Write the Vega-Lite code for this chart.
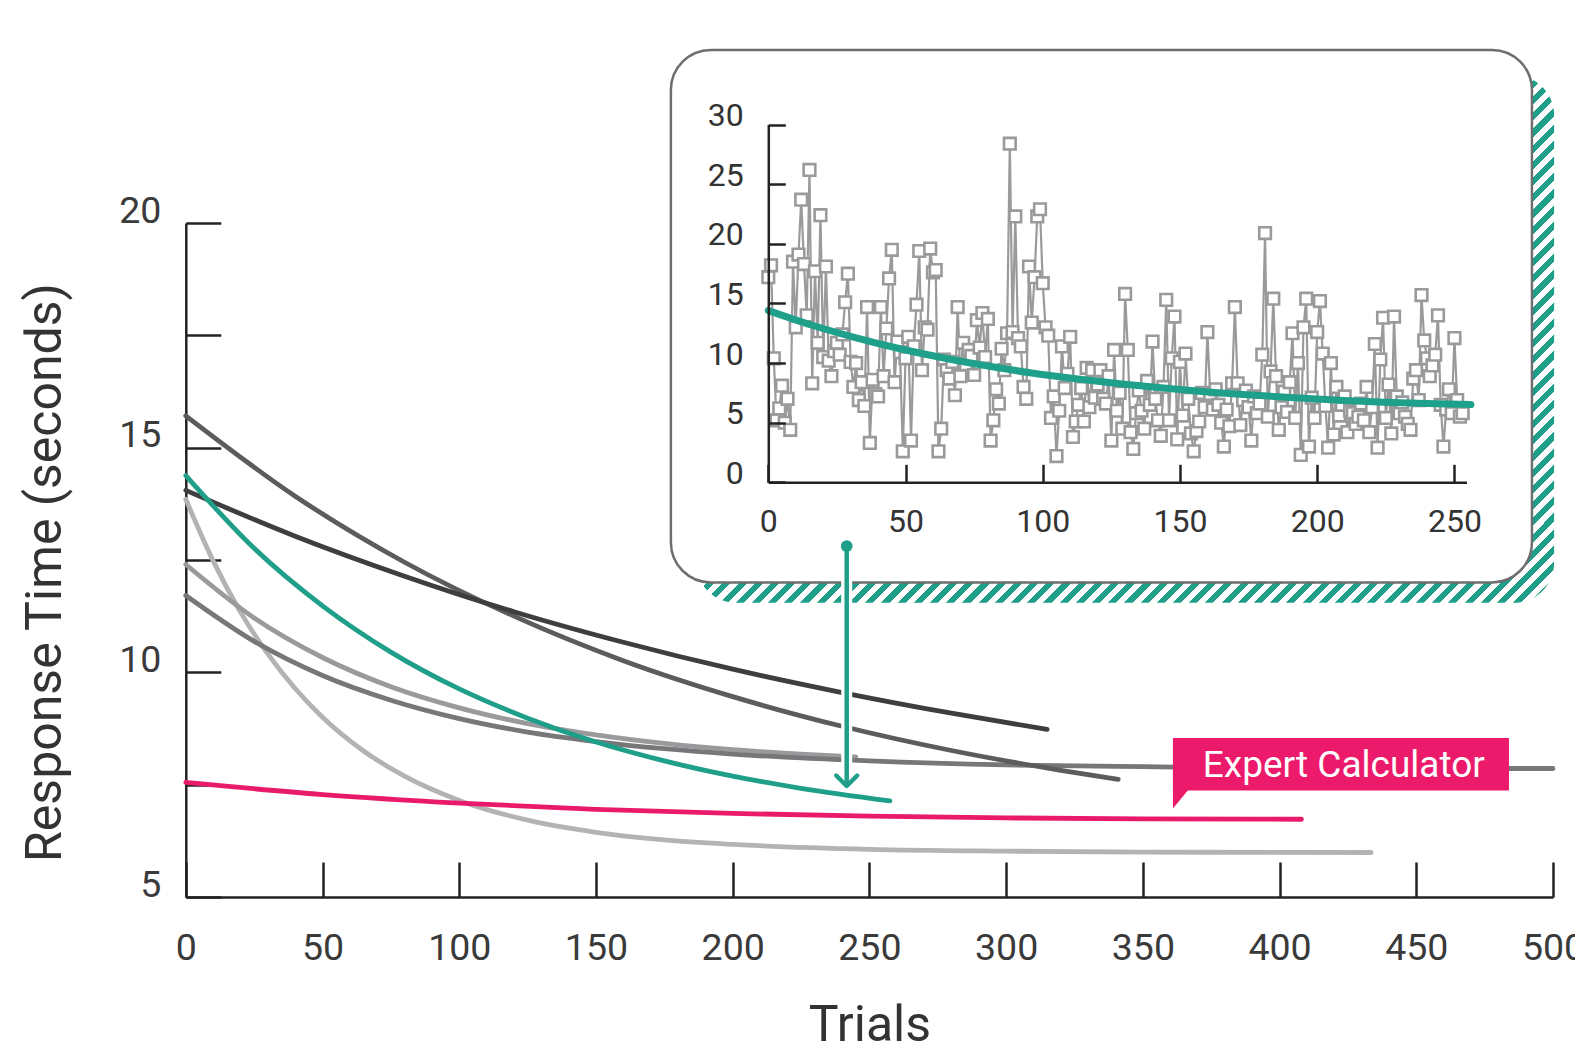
{
"$schema": "https://vega.github.io/schema/vega-lite/v6.json",
"width": 1575, "height": 1051, "padding": 0, "autosize": {"type": "none"},
"background": "#ffffff",
"config": {"view": {"stroke": null}, "font": "Roboto", "axis": {"grid": false}},
"datasets": {
"lines": [
{"s":"F","t":0,"v":13.85},{"s":"F","t":10,"v":12.48},{"s":"F","t":20,"v":11.34},{"s":"F","t":30,"v":10.41},{"s":"F","t":40,"v":9.64},{"s":"F","t":50,"v":9.0},{"s":"F","t":65,"v":8.25},{"s":"F","t":80,"v":7.69},{"s":"F","t":100,"v":7.15},{"s":"F","t":125,"v":6.71},{"s":"F","t":150,"v":6.44},{"s":"F","t":175,"v":6.27},{"s":"F","t":200,"v":6.17},{"s":"F","t":250,"v":6.06},{"s":"F","t":300,"v":6.02},{"s":"F","t":350,"v":6.0},{"s":"F","t":433.5,"v":5.99},
{"s":"D","t":0,"v":12.4},{"s":"D","t":25,"v":11.21},{"s":"D","t":50,"v":10.33},{"s":"D","t":75,"v":9.68},{"s":"D","t":100,"v":9.21},{"s":"D","t":125,"v":8.86},{"s":"D","t":150,"v":8.61},{"s":"D","t":175,"v":8.42},{"s":"D","t":200,"v":8.28},{"s":"D","t":225,"v":8.18},{"s":"D","t":245,"v":8.12},
{"s":"E","t":0,"v":11.71},{"s":"E","t":25,"v":10.69},{"s":"E","t":50,"v":9.93},{"s":"E","t":75,"v":9.38},{"s":"E","t":100,"v":8.97},{"s":"E","t":125,"v":8.67},{"s":"E","t":150,"v":8.46},{"s":"E","t":175,"v":8.3},{"s":"E","t":200,"v":8.18},{"s":"E","t":250,"v":8.03},{"s":"E","t":300,"v":7.94},{"s":"E","t":350,"v":7.9},{"s":"E","t":400,"v":7.87},{"s":"E","t":450,"v":7.86},{"s":"E","t":500,"v":7.86},
{"s":"B","t":0,"v":15.71},{"s":"B","t":40,"v":13.92},{"s":"B","t":80,"v":12.45},{"s":"B","t":120,"v":11.25},{"s":"B","t":160,"v":10.26},{"s":"B","t":200,"v":9.46},{"s":"B","t":240,"v":8.8},{"s":"B","t":280,"v":8.26},{"s":"B","t":320,"v":7.82},{"s":"B","t":341,"v":7.62},
{"s":"A","t":0,"v":14.05},{"s":"A","t":40,"v":13.03},{"s":"A","t":80,"v":12.14},{"s":"A","t":120,"v":11.35},{"s":"A","t":160,"v":10.67},{"s":"A","t":200,"v":10.07},{"s":"A","t":240,"v":9.55},{"s":"A","t":280,"v":9.09},{"s":"A","t":315,"v":8.73},
{"s":"C","t":0,"v":14.38},{"s":"C","t":25,"v":12.76},{"s":"C","t":50,"v":11.48},{"s":"C","t":75,"v":10.45},{"s":"C","t":100,"v":9.63},{"s":"C","t":125,"v":8.98},{"s":"C","t":150,"v":8.45},{"s":"C","t":175,"v":8.03},{"s":"C","t":200,"v":7.69},{"s":"C","t":225,"v":7.42},{"s":"C","t":257.5,"v":7.14},
{"s":"G","t":0,"v":7.55},{"s":"G","t":50,"v":7.28},{"s":"G","t":100,"v":7.09},{"s":"G","t":150,"v":6.95},{"s":"G","t":200,"v":6.86},{"s":"G","t":250,"v":6.8},{"s":"G","t":300,"v":6.76},{"s":"G","t":350,"v":6.74},{"s":"G","t":408,"v":6.73}
],
"shadow": [{"t":186.6,"t2":500.4,"v":23.29,"v2":11.55}],
"box": [{"t":177.4,"t2":492.3,"v":23.85,"v2":12.0}],
"expert": [{"t":361.0,"t2":483.9,"v":8.54,"v2":7.37}],
"tail": [{"t":361.0,"v":6.97,"v2":7.45},{"t":367.5,"v":7.45,"v2":7.45}],
"label": [{"t":423.5,"v":7.664,"txt":"Expert Calculator"}],
"arrow": [{"t":241.7,"v":12.81,"v2":7.47}],
"arrowTip": [{"t":241.7,"v":7.47}],
"arrowTop": [{"t":241.7,"v":12.81}],
"fit": [{"t":0,"v":14.4},{"t":16,"v":13.17},{"t":32,"v":12.11},{"t":48,"v":11.2},{"t":64,"v":10.42},{"t":80,"v":9.75},{"t":96,"v":9.17},{"t":112,"v":8.68},{"t":128,"v":8.26},{"t":144,"v":7.9},{"t":160,"v":7.58},{"t":176,"v":7.32},{"t":192,"v":7.09},{"t":208,"v":6.89},{"t":224,"v":6.72},{"t":240,"v":6.6},{"t":256,"v":6.52}],
"inset": [
{"t":0,"v":17.2},{"t":1,"v":18.2},{"t":2,"v":10.4},{"t":3,"v":5.2},{"t":4,"v":6.2},{"t":5,"v":8.1},{"t":6,"v":5.0},{"t":7,"v":7.0},{"t":8,"v":4.4},{"t":9,"v":18.5},
{"t":10,"v":13.0},{"t":11,"v":19.1},{"t":12,"v":23.7},{"t":13,"v":18.3},{"t":14,"v":14.0},{"t":15,"v":26.2},{"t":16,"v":8.3},{"t":17,"v":17.7},{"t":18,"v":11.7},{"t":19,"v":22.4},
{"t":20,"v":10.5},{"t":21,"v":18.1},{"t":22,"v":10.2},{"t":23,"v":8.9},{"t":24,"v":11.0},{"t":25,"v":11.7},{"t":26,"v":10.7},{"t":27,"v":12.4},{"t":28,"v":15.1},{"t":29,"v":17.5},
{"t":30,"v":10.1},{"t":31,"v":8.0},{"t":32,"v":10.0},{"t":33,"v":6.9},{"t":34,"v":8.4},{"t":35,"v":6.4},{"t":36,"v":14.7},{"t":37,"v":3.3},{"t":38,"v":8.6},{"t":39,"v":7.4},
{"t":40,"v":7.2},{"t":41,"v":14.7},{"t":42,"v":8.9},{"t":43,"v":12.9},{"t":44,"v":17.1},{"t":45,"v":19.5},{"t":46,"v":8.4},{"t":47,"v":11.8},{"t":48,"v":10.9},{"t":49,"v":2.6},
{"t":50,"v":10.4},{"t":51,"v":12.2},{"t":52,"v":3.5},{"t":53,"v":11.4},{"t":54,"v":14.9},{"t":55,"v":19.4},{"t":56,"v":9.4},{"t":57,"v":13.0},{"t":58,"v":12.8},{"t":59,"v":19.6},
{"t":60,"v":17.6},{"t":61,"v":17.8},{"t":62,"v":2.6},{"t":63,"v":4.5},{"t":64,"v":10.3},{"t":65,"v":9.4},{"t":66,"v":8.7},{"t":67,"v":10.1},{"t":68,"v":7.3},{"t":69,"v":14.7},
{"t":70,"v":8.9},{"t":71,"v":11.7},{"t":72,"v":9.9},{"t":73,"v":11.1},{"t":74,"v":10.6},{"t":75,"v":9.0},{"t":76,"v":13.6},{"t":77,"v":11.3},{"t":78,"v":14.2},{"t":79,"v":10.5},
{"t":80,"v":13.7},{"t":81,"v":3.5},{"t":82,"v":5.2},{"t":83,"v":7.8},{"t":84,"v":6.6},{"t":85,"v":11.2},{"t":86,"v":9.4},{"t":87,"v":12.5},{"t":88,"v":28.4},{"t":89,"v":12.6},
{"t":90,"v":22.3},{"t":91,"v":12.1},{"t":92,"v":11.4},{"t":93,"v":8.0},{"t":94,"v":7.0},{"t":95,"v":18.1},{"t":96,"v":13.4},{"t":97,"v":17.2},{"t":98,"v":22.3},{"t":99,"v":22.9},
{"t":100,"v":16.7},{"t":101,"v":13.0},{"t":102,"v":12.3},{"t":103,"v":5.4},{"t":104,"v":7.2},{"t":105,"v":2.2},{"t":106,"v":6.0},{"t":107,"v":11.4},{"t":108,"v":7.9},{"t":109,"v":9.1},
{"t":110,"v":12.2},{"t":111,"v":3.8},{"t":112,"v":5.1},{"t":113,"v":6.5},{"t":114,"v":7.9},{"t":115,"v":5.1},{"t":116,"v":9.6},{"t":117,"v":6.3},{"t":118,"v":9.4},{"t":119,"v":7.1},
{"t":120,"v":8.2},{"t":121,"v":9.4},{"t":122,"v":7.0},{"t":123,"v":6.6},{"t":124,"v":8.9},{"t":125,"v":3.5},{"t":126,"v":11.1},{"t":127,"v":6.0},{"t":128,"v":7.5},{"t":129,"v":4.5},
{"t":130,"v":15.8},{"t":131,"v":11.1},{"t":132,"v":4.2},{"t":133,"v":2.8},{"t":134,"v":5.8},{"t":135,"v":7.7},{"t":136,"v":6.0},{"t":137,"v":4.5},{"t":138,"v":8.5},{"t":139,"v":6.5},
{"t":140,"v":11.8},{"t":141,"v":7.0},{"t":142,"v":5.2},{"t":143,"v":3.9},{"t":144,"v":8.0},{"t":145,"v":15.3},{"t":146,"v":5.2},{"t":147,"v":10.4},{"t":148,"v":13.9},{"t":149,"v":3.6},
{"t":150,"v":10.1},{"t":151,"v":5.6},{"t":152,"v":10.8},{"t":153,"v":7.0},{"t":154,"v":4.1},{"t":155,"v":2.6},{"t":156,"v":4.3},{"t":157,"v":5.1},{"t":158,"v":7.5},{"t":159,"v":6.3},
{"t":160,"v":12.6},{"t":161,"v":7.4},{"t":162,"v":6.1},{"t":163,"v":7.8},{"t":164,"v":6.5},{"t":165,"v":5.0},{"t":166,"v":3.0},{"t":167,"v":6.1},{"t":168,"v":4.7},{"t":169,"v":8.3},
{"t":170,"v":14.7},{"t":171,"v":8.3},{"t":172,"v":4.8},{"t":173,"v":6.9},{"t":174,"v":7.7},{"t":175,"v":6.3},{"t":176,"v":3.5},{"t":177,"v":7.2},{"t":178,"v":5.8},{"t":179,"v":6.6},
{"t":180,"v":10.7},{"t":181,"v":20.9},{"t":182,"v":5.5},{"t":183,"v":9.3},{"t":184,"v":15.4},{"t":185,"v":8.9},{"t":186,"v":4.4},{"t":187,"v":6.3},{"t":188,"v":7.6},{"t":189,"v":5.9},
{"t":190,"v":8.4},{"t":191,"v":12.5},{"t":192,"v":5.4},{"t":193,"v":10.0},{"t":194,"v":2.3},{"t":195,"v":13.0},{"t":196,"v":15.4},{"t":197,"v":3.0},{"t":198,"v":7.1},{"t":199,"v":5.4},
{"t":200,"v":12.6},{"t":201,"v":15.2},{"t":202,"v":10.8},{"t":203,"v":6.4},{"t":204,"v":2.9},{"t":205,"v":10.0},{"t":206,"v":4.0},{"t":207,"v":8.0},{"t":208,"v":5.6},{"t":209,"v":6.5},
{"t":210,"v":7.2},{"t":211,"v":4.2},{"t":212,"v":6.0},{"t":213,"v":5.8},{"t":214,"v":4.9},{"t":215,"v":5.5},{"t":216,"v":6.6},{"t":217,"v":5.2},{"t":218,"v":8.0},{"t":219,"v":4.2},
{"t":220,"v":6.3},{"t":221,"v":11.6},{"t":222,"v":2.9},{"t":223,"v":10.3},{"t":224,"v":13.8},{"t":225,"v":5.4},{"t":226,"v":8.2},{"t":227,"v":4.1},{"t":228,"v":13.9},{"t":229,"v":7.2},
{"t":230,"v":5.8},{"t":231,"v":6.7},{"t":232,"v":5.5},{"t":233,"v":4.9},{"t":234,"v":4.4},{"t":235,"v":8.7},{"t":236,"v":9.4},{"t":237,"v":6.9},{"t":238,"v":15.7},{"t":239,"v":11.9},
{"t":240,"v":10.4},{"t":241,"v":8.9},{"t":242,"v":9.8},{"t":243,"v":10.7},{"t":244,"v":14.0},{"t":245,"v":6.5},{"t":246,"v":3.0},{"t":247,"v":6.1},{"t":248,"v":7.8},{"t":249,"v":5.8},
{"t":250,"v":12.1},{"t":251,"v":6.9},{"t":252,"v":5.5},{"t":253,"v":5.8}
]
},
"layer": [
{
"encoding": {
"x": {"field": "t", "type": "quantitative",
 "scale": {"domain": [0, 500], "range": [185.8, 1553], "nice": false, "zero": false},
 "axis": {"title": "Trials", "orient": "bottom", "offset": -154, "values": [0,50,100,150,200,250,300,350,400,450,500],
  "tickSize": -35, "tickWidth": 2.5, "tickColor": "#222222", "domainColor": "#222222", "domainWidth": 2.5,
  "labelFont": "Roboto", "labelFontSize": 37.5, "labelColor": "#3a3a3a", "labelPadding": 67, "labelFlush": false, "labelOverlap": false,
  "titleFont": "Roboto", "titleFontSize": 50, "titleFontWeight": "normal", "titleColor": "#333333", "titleBaseline": "alphabetic", "titleY": 143}},
"y": {"field": "v", "type": "quantitative",
 "scale": {"domain": [5, 20], "range": [897, 223], "nice": false, "zero": false},
 "axis": {"title": "Response Time (seconds)", "orient": "left", "offset": -185.8, "values": [5,7.5,10,12.5,15,17.5,20],
  "labelExpr": "datum.value % 5 === 0 ? datum.label : ''",
  "tickSize": -35, "tickWidth": 2.5, "tickColor": "#222222", "domainColor": "#222222", "domainWidth": 2.5,
  "labelFont": "Roboto", "labelFontSize": 37.5, "labelColor": "#3a3a3a", "labelPadding": 60, "labelOffset": -12, "labelOverlap": false,
  "titleFont": "Roboto", "titleFontSize": 50, "titleFontWeight": "normal", "titleColor": "#333333",
  "titleAngle": -90, "titleBaseline": "alphabetic", "titleAlign": "center", "titleX": -125, "titleY": 572}}
},
"layer": [
{"data": {"name": "shadow"},
 "mark": {"type": "rect", "cornerRadius": 40, "fill": {"gradient": "linear", "x1": 0, "y1": 0, "x2": 1.37, "y2": 0.842, "stops": [
{"offset":0.30,"color":"#1f9e89"},{"offset":0.305,"color":"#1f9e89"},{"offset":0.305,"color":"#ffffff"},{"offset":0.31,"color":"#ffffff"},
{"offset":0.31,"color":"#1f9e89"},{"offset":0.315,"color":"#1f9e89"},{"offset":0.315,"color":"#ffffff"},{"offset":0.32,"color":"#ffffff"},
{"offset":0.32,"color":"#1f9e89"},{"offset":0.325,"color":"#1f9e89"},{"offset":0.325,"color":"#ffffff"},{"offset":0.33,"color":"#ffffff"},
{"offset":0.33,"color":"#1f9e89"},{"offset":0.335,"color":"#1f9e89"},{"offset":0.335,"color":"#ffffff"},{"offset":0.34,"color":"#ffffff"},
{"offset":0.34,"color":"#1f9e89"},{"offset":0.345,"color":"#1f9e89"},{"offset":0.345,"color":"#ffffff"},{"offset":0.35,"color":"#ffffff"},
{"offset":0.35,"color":"#1f9e89"},{"offset":0.355,"color":"#1f9e89"},{"offset":0.355,"color":"#ffffff"},{"offset":0.36,"color":"#ffffff"},
{"offset":0.36,"color":"#1f9e89"},{"offset":0.365,"color":"#1f9e89"},{"offset":0.365,"color":"#ffffff"},{"offset":0.37,"color":"#ffffff"},
{"offset":0.37,"color":"#1f9e89"},{"offset":0.375,"color":"#1f9e89"},{"offset":0.375,"color":"#ffffff"},{"offset":0.38,"color":"#ffffff"},
{"offset":0.38,"color":"#1f9e89"},{"offset":0.385,"color":"#1f9e89"},{"offset":0.385,"color":"#ffffff"},{"offset":0.39,"color":"#ffffff"},
{"offset":0.39,"color":"#1f9e89"},{"offset":0.395,"color":"#1f9e89"},{"offset":0.395,"color":"#ffffff"},{"offset":0.40,"color":"#ffffff"},
{"offset":0.40,"color":"#1f9e89"},{"offset":0.405,"color":"#1f9e89"},{"offset":0.405,"color":"#ffffff"},{"offset":0.41,"color":"#ffffff"},
{"offset":0.41,"color":"#1f9e89"},{"offset":0.415,"color":"#1f9e89"},{"offset":0.415,"color":"#ffffff"},{"offset":0.42,"color":"#ffffff"},
{"offset":0.42,"color":"#1f9e89"},{"offset":0.425,"color":"#1f9e89"},{"offset":0.425,"color":"#ffffff"},{"offset":0.43,"color":"#ffffff"},
{"offset":0.43,"color":"#1f9e89"},{"offset":0.435,"color":"#1f9e89"},{"offset":0.435,"color":"#ffffff"},{"offset":0.44,"color":"#ffffff"},
{"offset":0.44,"color":"#1f9e89"},{"offset":0.445,"color":"#1f9e89"},{"offset":0.445,"color":"#ffffff"},{"offset":0.45,"color":"#ffffff"},
{"offset":0.45,"color":"#1f9e89"},{"offset":0.455,"color":"#1f9e89"},{"offset":0.455,"color":"#ffffff"},{"offset":0.46,"color":"#ffffff"},
{"offset":0.46,"color":"#1f9e89"},{"offset":0.465,"color":"#1f9e89"},{"offset":0.465,"color":"#ffffff"},{"offset":0.47,"color":"#ffffff"},
{"offset":0.47,"color":"#1f9e89"},{"offset":0.475,"color":"#1f9e89"},{"offset":0.475,"color":"#ffffff"},{"offset":0.48,"color":"#ffffff"},
{"offset":0.48,"color":"#1f9e89"},{"offset":0.485,"color":"#1f9e89"},{"offset":0.485,"color":"#ffffff"},{"offset":0.49,"color":"#ffffff"},
{"offset":0.49,"color":"#1f9e89"},{"offset":0.495,"color":"#1f9e89"},{"offset":0.495,"color":"#ffffff"},{"offset":0.50,"color":"#ffffff"},
{"offset":0.50,"color":"#1f9e89"},{"offset":0.505,"color":"#1f9e89"},{"offset":0.505,"color":"#ffffff"},{"offset":0.51,"color":"#ffffff"},
{"offset":0.51,"color":"#1f9e89"},{"offset":0.515,"color":"#1f9e89"},{"offset":0.515,"color":"#ffffff"},{"offset":0.52,"color":"#ffffff"},
{"offset":0.52,"color":"#1f9e89"},{"offset":0.525,"color":"#1f9e89"},{"offset":0.525,"color":"#ffffff"},{"offset":0.53,"color":"#ffffff"},
{"offset":0.53,"color":"#1f9e89"},{"offset":0.535,"color":"#1f9e89"},{"offset":0.535,"color":"#ffffff"},{"offset":0.54,"color":"#ffffff"},
{"offset":0.54,"color":"#1f9e89"},{"offset":0.545,"color":"#1f9e89"},{"offset":0.545,"color":"#ffffff"},{"offset":0.55,"color":"#ffffff"},
{"offset":0.55,"color":"#1f9e89"},{"offset":0.555,"color":"#1f9e89"},{"offset":0.555,"color":"#ffffff"},{"offset":0.56,"color":"#ffffff"},
{"offset":0.56,"color":"#1f9e89"},{"offset":0.565,"color":"#1f9e89"},{"offset":0.565,"color":"#ffffff"},{"offset":0.57,"color":"#ffffff"},
{"offset":0.57,"color":"#1f9e89"},{"offset":0.575,"color":"#1f9e89"},{"offset":0.575,"color":"#ffffff"},{"offset":0.58,"color":"#ffffff"},
{"offset":0.58,"color":"#1f9e89"},{"offset":0.585,"color":"#1f9e89"},{"offset":0.585,"color":"#ffffff"},{"offset":0.59,"color":"#ffffff"},
{"offset":0.59,"color":"#1f9e89"},{"offset":0.595,"color":"#1f9e89"},{"offset":0.595,"color":"#ffffff"},{"offset":0.60,"color":"#ffffff"},
{"offset":0.60,"color":"#1f9e89"},{"offset":0.605,"color":"#1f9e89"},{"offset":0.605,"color":"#ffffff"},{"offset":0.61,"color":"#ffffff"},
{"offset":0.61,"color":"#1f9e89"},{"offset":0.615,"color":"#1f9e89"},{"offset":0.615,"color":"#ffffff"},{"offset":0.62,"color":"#ffffff"},
{"offset":0.62,"color":"#1f9e89"},{"offset":0.625,"color":"#1f9e89"},{"offset":0.625,"color":"#ffffff"},{"offset":0.63,"color":"#ffffff"},
{"offset":0.63,"color":"#1f9e89"},{"offset":0.635,"color":"#1f9e89"},{"offset":0.635,"color":"#ffffff"},{"offset":0.64,"color":"#ffffff"},
{"offset":0.64,"color":"#1f9e89"},{"offset":0.645,"color":"#1f9e89"},{"offset":0.645,"color":"#ffffff"},{"offset":0.65,"color":"#ffffff"},
{"offset":0.65,"color":"#1f9e89"},{"offset":0.655,"color":"#1f9e89"},{"offset":0.655,"color":"#ffffff"},{"offset":0.66,"color":"#ffffff"},
{"offset":0.66,"color":"#1f9e89"},{"offset":0.665,"color":"#1f9e89"},{"offset":0.665,"color":"#ffffff"},{"offset":0.67,"color":"#ffffff"},
{"offset":0.67,"color":"#1f9e89"},{"offset":0.675,"color":"#1f9e89"},{"offset":0.675,"color":"#ffffff"},{"offset":0.68,"color":"#ffffff"},
{"offset":0.68,"color":"#1f9e89"},{"offset":0.685,"color":"#1f9e89"},{"offset":0.685,"color":"#ffffff"},{"offset":0.69,"color":"#ffffff"},
{"offset":0.69,"color":"#1f9e89"},{"offset":0.695,"color":"#1f9e89"},{"offset":0.695,"color":"#ffffff"},{"offset":0.70,"color":"#ffffff"},
{"offset":0.70,"color":"#1f9e89"},{"offset":0.705,"color":"#1f9e89"},{"offset":0.705,"color":"#ffffff"},{"offset":0.71,"color":"#ffffff"},
{"offset":0.71,"color":"#1f9e89"},{"offset":0.715,"color":"#1f9e89"},{"offset":0.715,"color":"#ffffff"},{"offset":0.72,"color":"#ffffff"},
{"offset":0.72,"color":"#1f9e89"},{"offset":0.725,"color":"#1f9e89"},{"offset":0.725,"color":"#ffffff"},{"offset":0.73,"color":"#ffffff"},
{"offset":0.73,"color":"#1f9e89"},{"offset":0.735,"color":"#1f9e89"},{"offset":0.735,"color":"#ffffff"},{"offset":0.74,"color":"#ffffff"},
{"offset":0.74,"color":"#1f9e89"},{"offset":0.745,"color":"#1f9e89"},{"offset":0.745,"color":"#ffffff"},{"offset":0.75,"color":"#ffffff"},
{"offset":0.75,"color":"#1f9e89"},{"offset":0.755,"color":"#1f9e89"},{"offset":0.755,"color":"#ffffff"},{"offset":0.76,"color":"#ffffff"},
{"offset":0.76,"color":"#1f9e89"},{"offset":0.765,"color":"#1f9e89"},{"offset":0.765,"color":"#ffffff"},{"offset":0.77,"color":"#ffffff"},
{"offset":0.77,"color":"#1f9e89"},{"offset":0.775,"color":"#1f9e89"},{"offset":0.775,"color":"#ffffff"},{"offset":0.78,"color":"#ffffff"},
{"offset":0.78,"color":"#1f9e89"},{"offset":0.785,"color":"#1f9e89"},{"offset":0.785,"color":"#ffffff"},{"offset":0.79,"color":"#ffffff"},
{"offset":0.79,"color":"#1f9e89"},{"offset":0.795,"color":"#1f9e89"},{"offset":0.795,"color":"#ffffff"},{"offset":0.80,"color":"#ffffff"},
{"offset":0.80,"color":"#1f9e89"},{"offset":0.805,"color":"#1f9e89"},{"offset":0.805,"color":"#ffffff"},{"offset":0.81,"color":"#ffffff"},
{"offset":0.81,"color":"#1f9e89"},{"offset":0.815,"color":"#1f9e89"},{"offset":0.815,"color":"#ffffff"},{"offset":0.82,"color":"#ffffff"},
{"offset":0.82,"color":"#1f9e89"},{"offset":0.825,"color":"#1f9e89"},{"offset":0.825,"color":"#ffffff"},{"offset":0.83,"color":"#ffffff"},
{"offset":0.83,"color":"#1f9e89"},{"offset":0.835,"color":"#1f9e89"},{"offset":0.835,"color":"#ffffff"},{"offset":0.84,"color":"#ffffff"},
{"offset":0.84,"color":"#1f9e89"},{"offset":0.845,"color":"#1f9e89"},{"offset":0.845,"color":"#ffffff"},{"offset":0.85,"color":"#ffffff"},
{"offset":0.85,"color":"#1f9e89"},{"offset":0.855,"color":"#1f9e89"},{"offset":0.855,"color":"#ffffff"},{"offset":0.86,"color":"#ffffff"},
{"offset":0.86,"color":"#1f9e89"},{"offset":0.865,"color":"#1f9e89"},{"offset":0.865,"color":"#ffffff"},{"offset":0.87,"color":"#ffffff"}
]}},
 "encoding": {"x2": {"field": "t2"}, "y2": {"field": "v2"}}},
{"data": {"name": "box"},
 "mark": {"type": "rect", "cornerRadius": 40, "fill": "#ffffff", "stroke": "#6e6e70", "strokeWidth": 2.5},
 "encoding": {"x2": {"field": "t2"}, "y2": {"field": "v2"}}},
{"data": {"name": "lines"},
 "mark": {"type": "line", "strokeWidth": 4.8, "strokeCap": "round", "interpolate": "monotone"},
 "encoding": {"color": {"field": "s", "type": "nominal", "legend": null,
   "scale": {"domain": ["F","D","E","B","A","C","G"], "range": ["#b3b3b6","#9a9a9d","#77777a","#5c5c5f","#3e3e41","#1f9e89","#ea1a6a"]}}}},
{"data": {"name": "expert"},
 "mark": {"type": "rect", "fill": "#ec1a6b"},
 "encoding": {"x2": {"field": "t2"}, "y2": {"field": "v2"}}},
{"data": {"name": "tail"},
 "mark": {"type": "area", "fill": "#ec1a6b", "interpolate": "linear"},
 "encoding": {"y2": {"field": "v2"}}},
{"data": {"name": "label"},
 "mark": {"type": "text", "font": "Roboto", "fontSize": 37, "color": "#ffffff", "align": "center", "baseline": "alphabetic"},
 "encoding": {"text": {"field": "txt"}}},
{"data": {"name": "arrow"},
 "mark": {"type": "rule", "color": "#ffffff", "strokeWidth": 11},
 "encoding": {"y2": {"field": "v2"}}},
{"data": {"name": "arrow"},
 "mark": {"type": "rule", "color": "#1f9e89", "strokeWidth": 4.5},
 "encoding": {"y2": {"field": "v2"}}},
{"data": {"name": "arrowTip"},
 "mark": {"type": "point", "shape": "M-1,-1L0,0L1,-1", "size": 440, "filled": false, "stroke": "#1f9e89", "strokeWidth": 4.5, "strokeCap": "round", "strokeJoin": "round", "opacity": 1},
 "encoding": {}},
{"data": {"name": "arrowTop"},
 "mark": {"type": "point", "shape": "circle", "size": 140, "filled": true, "fill": "#1f9e89", "stroke": null, "opacity": 1},
 "encoding": {}}
]
},
{
"encoding": {
"x": {"field": "t", "type": "quantitative",
 "scale": {"domain": [0, 254.4], "range": [768.3, 1466.5], "nice": false, "zero": false},
 "axis": {"title": null, "orient": "bottom", "offset": -568.7, "values": [0,50,100,150,200,250], "zindex": 1,
  "tickSize": -18, "tickWidth": 2.5, "tickColor": "#222222", "domainColor": "#222222", "domainWidth": 2.5,
  "labelFont": "Roboto", "labelFontSize": 32, "labelColor": "#333333", "labelPadding": 42, "labelFlush": false, "labelOverlap": false}},
"y": {"field": "v", "type": "quantitative",
 "scale": {"domain": [0, 30], "range": [482.3, 124.6], "nice": false, "zero": false},
 "axis": {"title": null, "orient": "left", "offset": -768.3, "values": [0,5,10,15,20,25,30], "zindex": 1,
  "tickSize": -17, "tickWidth": 2.5, "tickColor": "#222222", "domainColor": "#222222", "domainWidth": 2.5,
  "labelFont": "Roboto", "labelFontSize": 32, "labelColor": "#333333", "labelPadding": 42, "labelOffset": -9, "labelOverlap": false}}
},
"layer": [
{"data": {"name": "inset"},
 "mark": {"type": "line", "color": "#9a9a9c", "strokeWidth": 2.2}},
{"data": {"name": "inset"},
 "mark": {"type": "point", "shape": "square", "size": 135, "filled": true, "fill": "#ffffff", "stroke": "#9a9a9c", "strokeWidth": 2.6, "opacity": 1}},
{"data": {"name": "fit"},
 "mark": {"type": "line", "color": "#1fa08a", "strokeWidth": 7, "strokeCap": "round", "interpolate": "monotone"}}
]
}
],
"resolve": {"scale": {"x": "independent", "y": "independent"}}
}
